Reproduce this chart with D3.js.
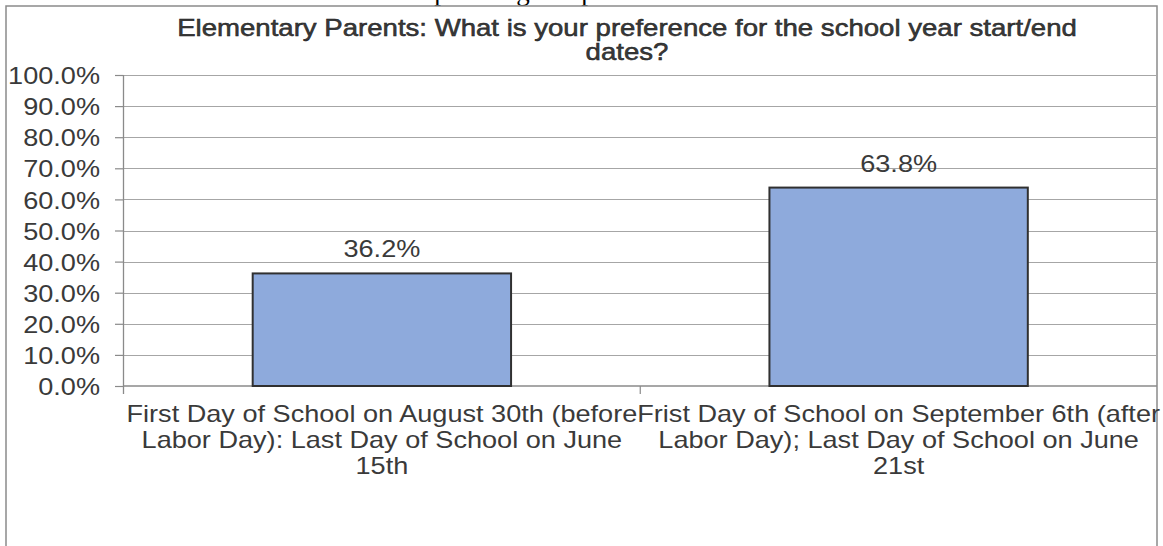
<!DOCTYPE html>
<html><head><meta charset="utf-8">
<script src="https://cdn.jsdelivr.net/npm/d3@7"></script>
<style>
html,body{margin:0;padding:0;background:#fff;}
svg{display:block;}
text{font-family:"Liberation Sans",Arial,sans-serif;fill:#3a3a3a;}
</style></head>
<body>
<svg id="chart" width="1163" height="546"></svg>
<script>
// ---- data ----
const titleLines = ["Elementary Parents: What is your preference for the school year start/end", "dates?"];
const categories = ["cat1", "cat2"];
const categoryLabels = [
  ["First Day of School on August 30th (before", "Labor Day): Last Day of School on June", "15th"],
  ["Frist Day of School on September 6th (after", "Labor Day); Last Day of School on June", "21st"]
];
const values = [0.362, 0.638];
const yTicks = [0, 0.1, 0.2, 0.3, 0.4, 0.5, 0.6, 0.7, 0.8, 0.9, 1.0];
const docFragments = ["p", "g", "p"];

// ---- layout ----
const sx = 1.13;           // horizontal stretch of the text in the picture
const fs = 24;
const plotL = 123.5, plotR = 1157, plotT = 75, plotB = 386;
const svg = d3.select("#chart");

// background document text clipped at the very top
const fragX = [441, 523, 588];
svg.selectAll("text.doc").data(docFragments).join("text")
  .attr("class", "doc")
  .attr("x", (d, i) => fragX[i]).attr("y", 0)
  .attr("text-anchor", "middle")
  .style("font-family", "'Liberation Serif','Times New Roman',serif")
  .style("font-size", "27px").style("fill", "#000")
  .text(d => d);

// chart area border
svg.append("rect").attr("x", 6).attr("y", 6).attr("width", 1151).attr("height", 560)
  .attr("fill", "none").attr("stroke", "#8a8a8a").attr("stroke-width", 1.5);

const x = d3.scaleBand().domain(categories).range([plotL, plotR]).padding(0);
const y = d3.scaleLinear().domain([0, 1]).range([plotB, plotT]);

// gridlines
svg.append("g").selectAll("line").data(yTicks.filter(d => d > 0)).join("line")
  .attr("x1", plotL).attr("x2", plotR)
  .attr("y1", d => Math.round(y(d)) + 0.5).attr("y2", d => Math.round(y(d)) + 0.5)
  .attr("stroke", "#a6a6a6").attr("stroke-width", 1.2);

// y axis
const yAxis = svg.append("g").attr("transform", `translate(${plotL},0)`)
  .call(d3.axisLeft(y).tickValues(yTicks).tickSize(8.5).tickPadding(0)
    .tickFormat(d => (d * 100).toFixed(1) + "%"));
yAxis.select(".domain").attr("d", `M0,${plotT}V${plotB + 8}`).attr("stroke", "#8a8a8a").attr("stroke-width", 1.3);
yAxis.selectAll(".tick line").attr("stroke", "#8a8a8a").attr("stroke-width", 1.2);
yAxis.selectAll(".tick text")
  .attr("x", -23.5 / sx).attr("dy", "0.36em")
  .attr("transform", `scale(${sx},1)`)
  .style("font-size", fs + "px").style("font-family", "'Liberation Sans',Arial,sans-serif")
  .attr("fill", "#3a3a3a");

// x axis
const xAxis = svg.append("g").attr("transform", `translate(0,${plotB})`)
  .call(d3.axisBottom(x).tickSize(0).tickFormat(""));
xAxis.select(".domain").attr("d", `M${plotL},0H${plotR}`).attr("stroke", "#8a8a8a").attr("stroke-width", 1.3);
svg.append("g").selectAll("line").data(categories.slice(1)).join("line")
  .attr("x1", d => x(d)).attr("x2", d => x(d))
  .attr("y1", plotB).attr("y2", plotB + 8)
  .attr("stroke", "#8a8a8a").attr("stroke-width", 1.2);

// category labels
const catG = svg.append("g").selectAll("g").data(categories).join("g")
  .attr("transform", d => `translate(${x(d) + x.bandwidth() / 2},0)`);
catG.each(function(d, i) {
  const t = d3.select(this).append("text")
    .attr("text-anchor", "middle").attr("transform", `scale(${sx},1)`)
    .style("font-size", fs + "px");
  categoryLabels[i].forEach((line, j) => {
    t.append("tspan").attr("x", 0).attr("y", 422 + j * 26).text(line);
  });
});

// bars
const bw = x.bandwidth() * 0.5;
svg.append("g").selectAll("rect").data(values).join("rect")
  .attr("x", (d, i) => x(categories[i]) + (x.bandwidth() - bw) / 2)
  .attr("width", bw)
  .attr("y", d => y(d))
  .attr("height", d => y(0) - y(d))
  .attr("fill", "#8eaadc").attr("stroke", "#303030").attr("stroke-width", 2);

// data labels
svg.append("g").selectAll("g").data(values).join("g")
  .attr("transform", (d, i) => `translate(${x(categories[i]) + x.bandwidth() / 2},${y(d) - 16})`)
  .append("text").attr("text-anchor", "middle").attr("transform", `scale(${sx},1)`)
  .style("font-size", fs + "px")
  .text(d => (d * 100).toFixed(1) + "%");

// title
const titleG = svg.append("g").attr("transform", "translate(627,0)");
const tt = titleG.append("text").attr("text-anchor", "middle")
  .style("font-size", "24px").attr("fill", "#1a1a1a")
  .attr("stroke", "#1a1a1a").attr("stroke-width", 0.5);
titleLines.forEach((l, j) => tt.append("tspan").attr("x", 0).attr("y", 36 + j * 24).text(l));
const firstLen = tt.select("tspan").node().getComputedTextLength();
tt.attr("transform", `scale(${900 / firstLen},1)`);
</script>
</body></html>
